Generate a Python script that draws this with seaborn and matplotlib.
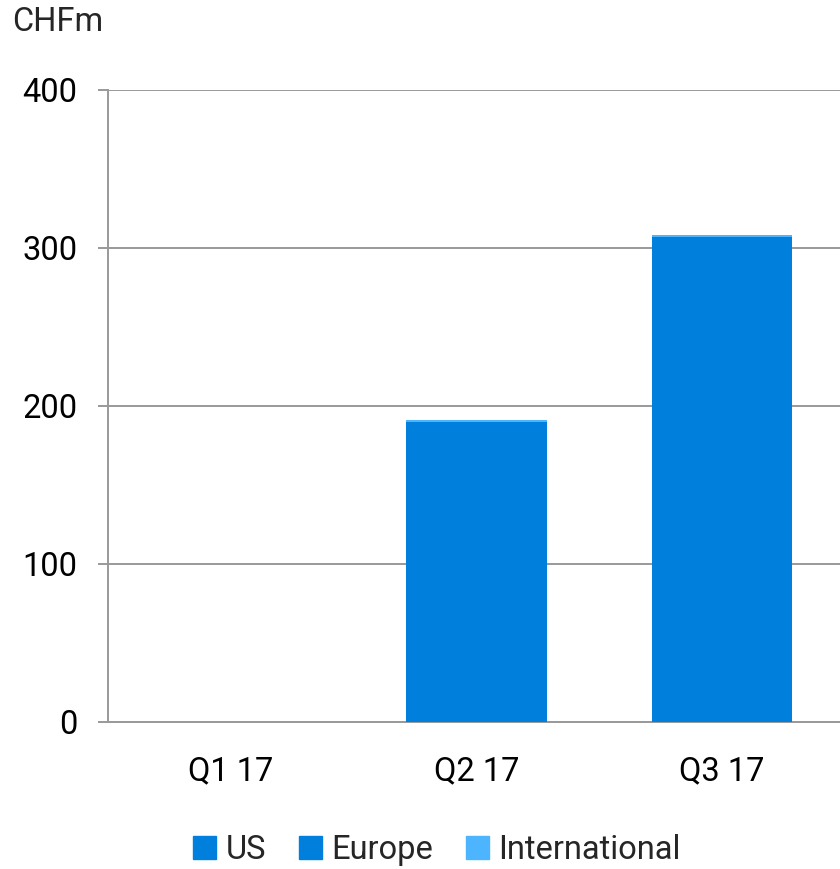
import matplotlib
matplotlib.use("Agg")
import matplotlib.pyplot as plt
import seaborn as sns
import pandas as pd
from matplotlib.patches import Patch

quarters = ["Q1 17", "Q2 17", "Q3 17"]
us = [0, 189, 305]
europe = [0, 1, 2]
international = [0, 1.2, 1.2]
yticks = [0, 100, 200, 300, 400]

c_us = "#0080DC"
c_eu = "#0080DC"
c_int = "#4DB5FF"

sns.set_style("white")
plt.rcParams['font.family'] = ['Roboto', 'DejaVu Sans']

df = pd.DataFrame({"quarter": quarters, "us": us, "europe": europe, "intl": international})
df["l1"] = df["us"]
df["l2"] = df["us"] + df["europe"]
df["l3"] = df["l2"] + df["intl"]

fig = plt.figure(figsize=(8.4, 8.69), dpi=100)
ax = fig.add_axes([108/840, 147/869, 737/840, 632/869])

for col, c in [("l3", c_int), ("l2", c_eu), ("l1", c_us)]:
    sns.barplot(data=df, x="quarter", y=col, color=c, width=0.57, ax=ax,
                saturation=1, linewidth=0, zorder=3)

fs = 23.5
ax.set_ylim(0, 400)
ax.set_xlim(-0.5, 2.5)
ax.set_yticks(yticks)
ax.set_yticklabels([str(v) for v in yticks])
ax.yaxis.grid(True, color="#999999", linewidth=1.4, zorder=0)
ax.set_axisbelow(True)
for s in ["top", "right"]:
    ax.spines[s].set_visible(False)
for s in ["left", "bottom"]:
    ax.spines[s].set_color("#999999")
    ax.spines[s].set_linewidth(1.4)
ax.tick_params(axis="y", length=7.2, width=1.4, color="#999999", pad=15, labelsize=fs, labelcolor="black", left=True)
ax.tick_params(axis="x", length=0, pad=24, labelsize=fs, labelcolor="black")
ax.set_xlabel("")
ax.set_ylabel("")

fig.text(12/840, 1 - 22/869, "CHFm", fontsize=fs, va="center", ha="left")

handles = [Patch(color=c_us, label="US"), Patch(color=c_eu, label="Europe"), Patch(color=c_int, label="International")]
fig.legend(handles=handles, loc="center", bbox_to_anchor=(437/840, 1 - 850/869), ncol=3,
           frameon=False, fontsize=fs, handlelength=0.7, handleheight=0.7, handletextpad=0.3,
           columnspacing=1.0)

fig.savefig("out.png", dpi=100)
